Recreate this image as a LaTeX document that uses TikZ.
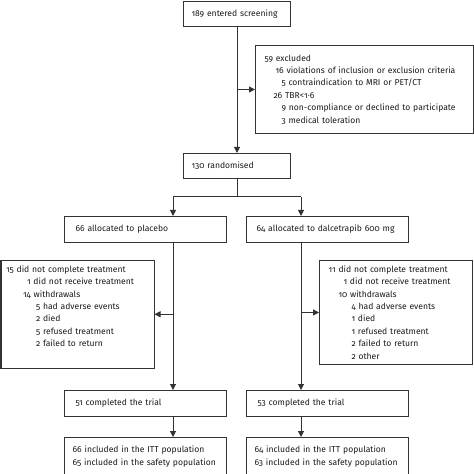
\documentclass[tikz,border=0pt]{standalone}
\usepackage{fontspec}
\setmainfont{Fira Sans}[Numbers=OldStyle]
\usetikzlibrary{positioning,arrows.meta}
\definecolor{linec}{HTML}{333333}
\definecolor{textc}{HTML}{1A1A1A}
\begin{document}
\begin{tikzpicture}
                [x=1bp,y=-1bp,line width=1bp,
                box/.style={rectangle,draw=linec,text=textc,align=left,inner xsep=10bp,inner ysep=0bp,
                  font=\fontsize{8.6}{12.5}\selectfont},
                arr/.style={draw=linec,-{Triangle[length=6bp,width=6bp]}},
                ln/.style={draw=linec}]
                \useasboundingbox (0,0) rectangle (474,474);
                \node[box,anchor=north west,inner xsep=8bp,text width=91bp,minimum height=25bp] (screen) at (183,1) {189 entered screening};
                \node[box,anchor=north west,inner xsep=9bp,text width=200bp,minimum height=88bp] (excl) at (255,45)
                  {59 excluded\\
                   \hspace*{11bp}16 violations of inclusion or exclusion criteria\\
                   \hspace*{17bp}5 contraindication to MRI or PET/CT\\
                   \hspace*{9bp}26 TBR<1·6\\
                   \hspace*{17bp}9 non-compliance or declined to participate\\
                   \hspace*{17bp}3 medical toleration};
                \node[box,inner xsep=8bp,text width=91bp,minimum height=25bp,node distance=126bp] (rand)[below=of screen]{130 randomised};
                \node[box,anchor=north west,inner xsep=11bp,text width=140bp,minimum height=26bp] (plac) at (64,216) {66 allocated to placebo};
                \node[box,anchor=north west,inner xsep=10bp,text width=142bp,minimum height=26bp] (dalc) at (246,216) {64 allocated to dalcetrapib 600 mg};
                \node[box,anchor=north west,inner xsep=5bp,inner ysep=5bp,text width=143bp] (lwd) at (0.5,260)
                  {15 did not complete treatment\\
                   \hspace*{21bp}1 did not receive treatment\\
                   \hspace*{17bp}14 withdrawals\\
                   \hspace*{30bp}5 had adverse events\\
                   \hspace*{30bp}2 died\\
                   \hspace*{30bp}5 refused treatment\\
                   \hspace*{30bp}2 failed to return\\
                   \strut};
                \node[box,anchor=north west,inner xsep=9bp,inner ysep=5bp,text width=135bp] (rwd) at (319,260)
                  {11 did not complete treatment\\
                   \hspace*{15bp}1 did not receive treatment\\
                   \hspace*{10bp}10 withdrawals\\
                   \hspace*{23bp}4 had adverse events\\
                   \hspace*{23bp}1 died\\
                   \hspace*{23bp}1 refused treatment\\
                   \hspace*{23bp}2 failed to return\\
                   \hspace*{23bp}2 other};
                \node[box,inner xsep=11bp,text width=140bp,minimum height=26bp,node distance=147bp] (lcomp)[below=of plac]{51 completed the trial};
                \node[box,inner xsep=11bp,text width=140bp,minimum height=26bp,node distance=147bp] (rcomp)[below=of dalc]{53 completed the trial};
                \node[box,inner xsep=8bp,text width=146bp,minimum height=38bp,node distance=20bp] (litt)[below=of lcomp]
                  {66 included in the ITT population\\65 included in the safety population};
                \node[box,inner xsep=8bp,text width=146bp,minimum height=38bp,node distance=20bp] (ritt)[below=of rcomp]
                  {64 included in the ITT population\\63 included in the safety population};
                \coordinate (lsplit) at (173,197);
                \coordinate (rsplit) at (301,197);
                \draw[arr] (screen) -- (rand);
                \draw[arr] (screen.south |- excl.west) -- (excl.west);
                \draw[ln] (rand.south) -- (rand.south |- lsplit);
                \draw[ln] (lsplit) -- (rsplit);
                \draw[arr] (lsplit) -- (lsplit |- plac.north);
                \draw[arr] (rsplit) -- (rsplit |- dalc.north);
                \draw[arr] (lsplit |- plac.south) -- (lsplit |- lcomp.north);
                \draw[arr] (rsplit |- dalc.south) -- (rsplit |- rcomp.north);
                \draw[arr] (lsplit |- lwd.east) -- (lwd.east);
                \draw[arr] (rsplit |- rwd.west) -- (rwd.west);
                \draw[arr] (lsplit |- lcomp.south) -- (lsplit |- litt.north);
                \draw[arr] (rsplit |- rcomp.south) -- (rsplit |- ritt.north);
\end{tikzpicture}
\end{document}
